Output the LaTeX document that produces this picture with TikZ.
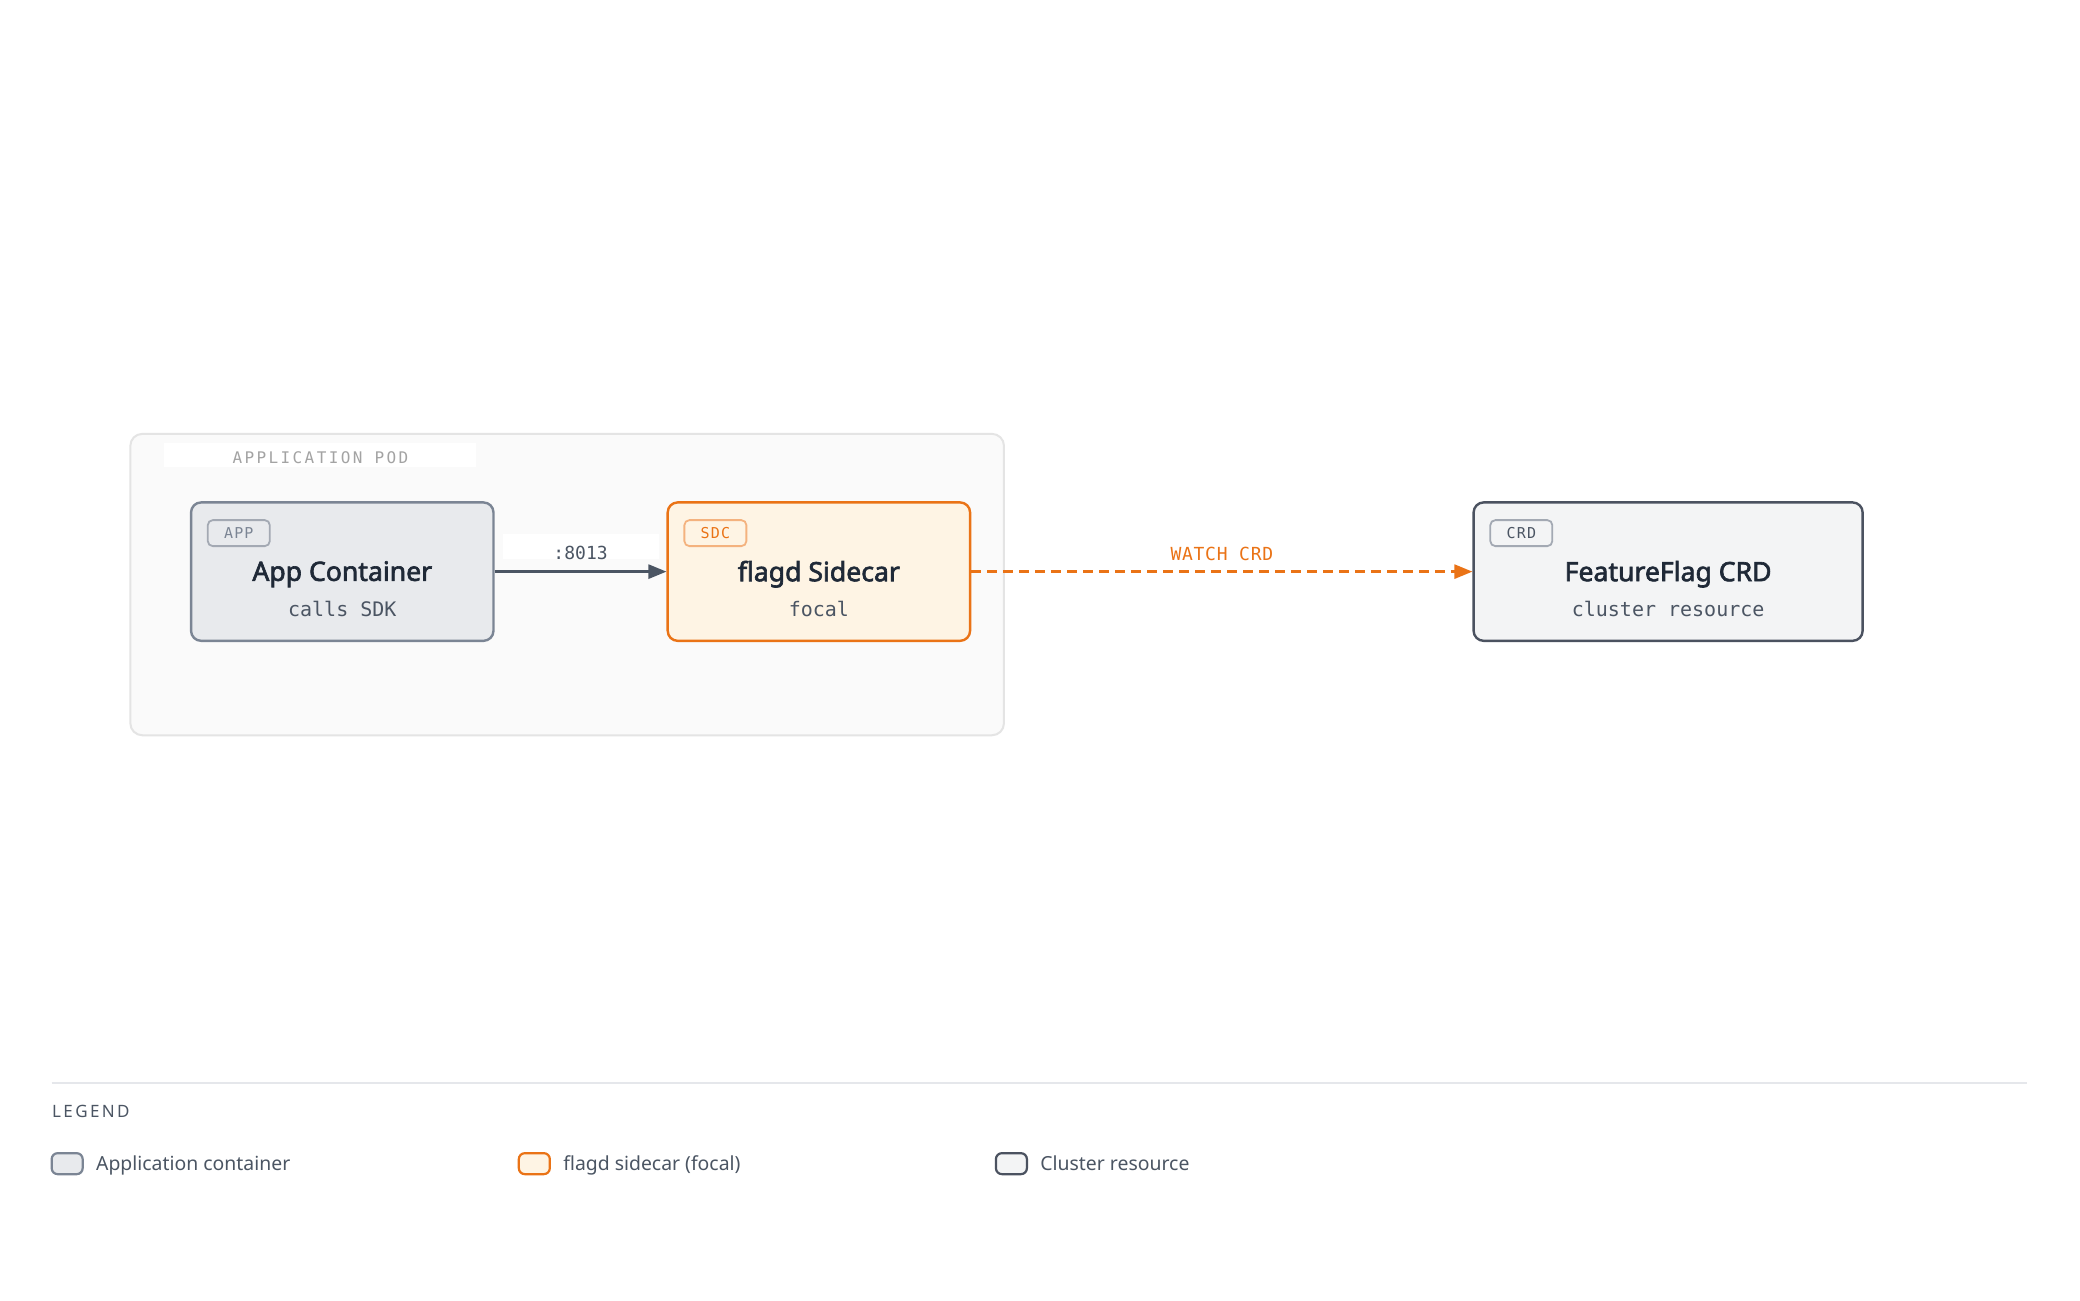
\documentclass[tikz,border=0pt]{standalone}
\usepackage{fontspec}
\setmainfont{Noto Sans}
\newfontfamily\titlefont[FakeBold=2.4]{Noto Sans}
\newfontfamily\monofont{DejaVu Sans Mono}
\newfontfamily\trackmono[LetterSpace=15]{DejaVu Sans Mono}
\newfontfamily\tagmono[LetterSpace=8]{DejaVu Sans Mono}
\newfontfamily\edgemono[LetterSpace=4]{DejaVu Sans Mono}
\newfontfamily\tracksans[LetterSpace=14]{Noto Sans}
\usetikzlibrary{positioning,arrows.meta}
\definecolor{ink}{HTML}{1F2937}
\definecolor{subink}{HTML}{4B5563}
\definecolor{appfill}{HTML}{E8EAED}
\definecolor{appline}{HTML}{7B8594}
\definecolor{apptag}{HTML}{A3A9B3}
\definecolor{sdcfill}{HTML}{FEF4E4}
\definecolor{sdcline}{HTML}{EA7316}
\definecolor{sdctag}{HTML}{F4B27E}
\definecolor{crdfill}{HTML}{F3F4F5}
\definecolor{crdline}{HTML}{4B5260}
\definecolor{podfill}{HTML}{FAFAFA}
\definecolor{podline}{HTML}{E4E4E4}
\definecolor{podink}{HTML}{A3A3A3}
\definecolor{rule}{HTML}{E5E7EB}
\tikzset{
  box/.style={draw,line width=1.2pt,rounded corners=5pt,minimum height=69.2pt,inner sep=0pt},
  tagbox/.style={draw,line width=0.9pt,rounded corners=2.5pt,minimum width=31pt,minimum height=13pt,inner sep=0pt,text height=5.5pt,text depth=-1pt,font=\tagmono\fontsize{7.5}{8}\selectfont},
  title/.style={text=ink,font=\titlefont\fontsize{13.3}{15}\selectfont},
  subtext/.style={text=subink,font=\monofont\fontsize{10}{12}\selectfont},
  swatch/.style={draw,line width=1.1pt,rounded corners=3pt,minimum width=15.5pt,minimum height=10.5pt,inner sep=0pt},
  legendtext/.style={text=subink,anchor=west,inner sep=0pt,text height=7pt,text depth=-0.6pt,font=\fontsize{9.7}{12}\selectfont}
}
\begin{document}
\begin{tikzpicture}[x=0.4975pt,y=-0.4975pt]
  \useasboundingbox[fill=white]
    (0pt,0pt)
    rectangle
    (1040pt,-650pt);
  % pod
  \node[draw=podline,fill=podfill,line width=1pt,rounded corners=6pt,
    minimum width=436.8pt,minimum height=150.7pt] (pod) at (570,587.5) {};
  \node[fill=white,minimum width=156pt,minimum height=12pt,inner sep=0pt,
    text=podink,font=\trackmono\fontsize{8}{9}\selectfont] (podlabel) at (322,457) {\raisebox{-4.2pt}[0pt][0pt]{APPLICATION POD}};
  % containers
  \node[box,draw=appline,fill=appfill,minimum width=151.2pt] (app) at (344,574.5) {};
  \node[box,draw=sdcline,fill=sdcfill,minimum width=151.2pt] (sdc) at (823,574.5) {};
  \node[box,draw=crdline,fill=crdfill,minimum width=194.5pt] (crd) at (1676.5,574.5) {};
  \node[tagbox,draw=apptag,text=appline,below right=9pt and 8.5pt of app.north west,anchor=north west] (apptag) {APP};
  \node[tagbox,draw=sdctag,text=sdcline,below right=9pt and 8.5pt of sdc.north west,anchor=north west] (sdctag) {SDC};
  \node[tagbox,draw=apptag,text=subink,below right=9pt and 8.5pt of crd.north west,anchor=north west] (crdtag) {CRD};
  \node[title] (apptitle) at ([yshift=-1.3pt]app.center) {App Container};
  \node[title] (sdctitle) at ([yshift=-1.3pt]sdc.center) {flagd Sidecar};
  \node[title] (crdtitle) at ([yshift=-1.3pt]crd.center) {FeatureFlag CRD};
  \node[subtext] (appsub) at ([yshift=-18.6pt]app.center) {calls SDK};
  \node[subtext] (sdcsub) at ([yshift=-18.6pt]sdc.center) {focal};
  \node[subtext] (crdsub) at ([yshift=-18.6pt]crd.center) {cluster resource};
  % connectors
  \draw[subink,line width=1.3pt,-{Triangle[length=9pt,width=7pt]}]
    (app.east)
    --
    node[above=5.5pt,fill=white,minimum width=78pt,minimum height=12.5pt,inner sep=0pt,
      text=subink,font=\monofont\fontsize{9}{10}\selectfont] (portlabel) {\raisebox{-6.2pt}[0pt][0pt]{:8013}}
    (sdc.west);
  \draw[sdcline,line width=1.3pt,dash pattern=on 5pt off 3pt,-{Triangle[length=9pt,width=7pt]}]
    (sdc.east)
    --
    node[above=4.7pt,inner sep=0pt,text=sdcline,font=\edgemono\fontsize{9}{10}\selectfont] (watchlabel) {WATCH CRD}
    (crd.west);
  % legend
  \coordinate (ruleleft) at (52,1088);
  \coordinate (ruleright) at (2037,1088);
  \draw[rule,line width=1pt]
    (ruleleft)
    --
    (ruleright);
  \node[anchor=west,inner sep=0pt,text=subink,font=\tracksans\fontsize{8.5}{10}\selectfont] (legendhead) at (52,1117) {LEGEND};
  \node[swatch,draw=appline,fill=appfill] (appswatch) at (67.5,1169.5) {};
  \node[swatch,draw=sdcline,fill=sdcfill] (sdcswatch) at (537,1169.5) {};
  \node[swatch,draw=crdline,fill=crdfill] (crdswatch) at (1016.5,1169.5) {};
  \node[legendtext,right=6pt of appswatch] (applegend) {Application container};
  \node[legendtext,right=6pt of sdcswatch] (sdclegend) {flagd sidecar (focal)};
  \node[legendtext,right=6pt of crdswatch] (crdlegend) {Cluster resource};
\end{tikzpicture}
\end{document}
